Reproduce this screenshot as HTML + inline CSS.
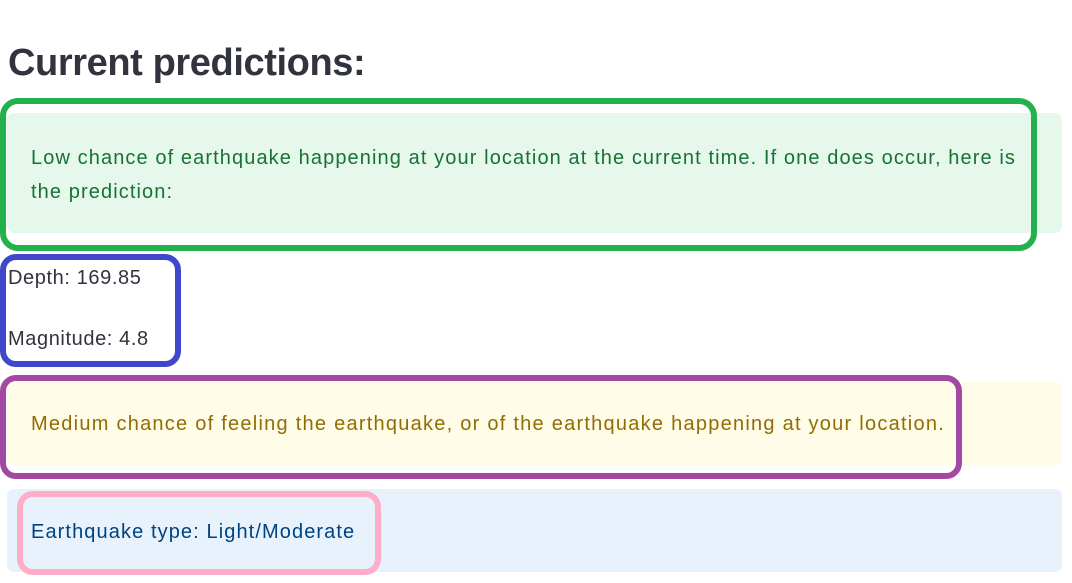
<!DOCTYPE html>
<html><head><meta charset="utf-8"><style>
body{margin:0;width:1072px;height:583px;background:#fff;position:relative;overflow:hidden;font-family:"Liberation Sans",sans-serif}
.a{position:absolute;box-sizing:border-box}
.t{position:absolute;white-space:nowrap;font-size:20px;letter-spacing:1.1px}
</style></head><body>
<div class="a" style="left:8px;top:42px;font-size:38px;font-weight:bold;color:#31333f;white-space:nowrap;letter-spacing:-0.4px">Current predictions:</div>

<div class="a" style="left:7px;top:113px;width:1055px;height:120px;background:#e6f8ec;border-radius:7px"></div>
<div class="t" style="left:31px;top:147px;color:#177233">Low chance of earthquake happening at your location at the current time. If one does occur, here is</div>
<div class="t" style="left:31px;top:181px;color:#177233">the prediction:</div>
<div class="a" style="left:0;top:98px;width:1037px;height:153px;border:6px solid #22b14c;border-radius:18px"></div>

<div class="t" style="left:8px;top:267px;color:#31333f;letter-spacing:0.6px">Depth: 169.85</div>
<div class="t" style="left:8px;top:328px;color:#31333f;letter-spacing:0.6px">Magnitude: 4.8</div>
<div class="a" style="left:0;top:254px;width:181px;height:113px;border:6px solid #3f48cc;border-radius:16px"></div>

<div class="a" style="left:7px;top:382px;width:1055px;height:83px;background:#fffce7;border-radius:7px"></div>
<div class="t" style="left:31px;top:413px;color:#926c05;letter-spacing:1.25px">Medium chance of feeling the earthquake, or of the earthquake happening at your location.</div>
<div class="a" style="left:0;top:375px;width:962px;height:104px;border:6px solid #a349a4;border-radius:16px"></div>

<div class="a" style="left:7px;top:489px;width:1055px;height:83px;background:#e8f2fc;border-radius:7px"></div>
<div class="t" style="left:31px;top:521px;color:#004280">Earthquake type: Light/Moderate</div>
<div class="a" style="left:17px;top:491px;width:364px;height:84px;border:6px solid #ffaec9;border-radius:16px"></div>
</body></html>
